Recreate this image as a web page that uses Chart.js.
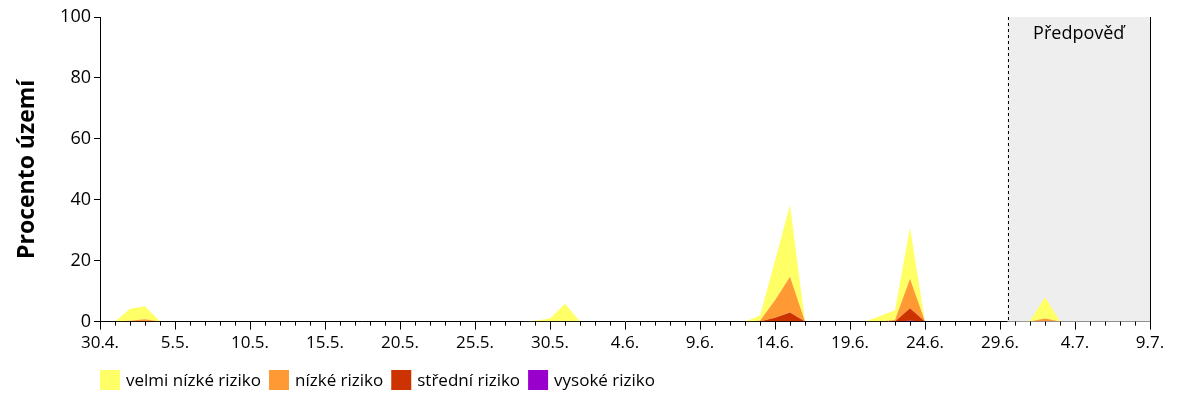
<!DOCTYPE html>
<html>
<head>
<meta charset="utf-8">
<script src="https://cdn.jsdelivr.net/npm/chart.js@4"></script>
<style>
  body { margin: 0; background: #fff; }
  #wrap { width: 1200px; height: 400px; }
</style>
</head>
<body>
<div id="wrap"><canvas id="riziko"></canvas></div>
<script>
// popisky osy x (kazdych 5 dni, index 0 = 30.4.)
const tickLabels = ['30.4.', '5.5.', '10.5.', '15.5.', '20.5.', '25.5.', '30.5.', '4.6.', '9.6.', '14.6.', '19.6.', '24.6.', '29.6.', '4.7.', '9.7.'];
const dayIndex = [
  0, 1, 2, 3, 4, 5, 6, 7, 8, 9, 10, 11, 12, 13, 14, 15, 16, 17, 18, 19,
  20, 21, 22, 23, 24, 25, 26, 27, 28, 29, 30, 31, 32, 33, 34, 35, 36, 37, 38, 39,
  40, 41, 42, 43, 44, 45, 46, 47, 48, 49, 50, 51, 52, 53, 54, 55, 56, 57, 58, 59,
  60, 61, 62, 63, 64, 65, 66, 67, 68, 69, 70
];
const forecastStart = 60.5;

// tloustka pasu jednotlivych kategorii (skladane)
const velmiNizke = [
  0, 0, 3.9, 4.2, 0, 0, 0, 0, 0, 0,
  0, 0, 0, 0, 0, 0, 0, 0, 0, 0,
  0, 0, 0, 0, 0, 0, 0, 0, 0, 0.3,
  1, 5.9, 0, 0, 0, 0, 0, 0, 0, 0,
  0, 0, 0, 0, 1.7, 13, 23.6, 0, 0, 0,
  0, 0, 1.8, 3.2, 16.8, 0, 0, 0, 0, 0,
  0, 0, 0.3, 7, 0, 0, 0, 0, 0, 0,
  0
];
const nizke = [
  0, 0, 0.3, 0.8, 0, 0, 0, 0, 0, 0,
  0, 0, 0, 0, 0, 0, 0, 0, 0, 0,
  0, 0, 0, 0, 0, 0, 0, 0, 0, 0,
  0, 0, 0, 0, 0, 0, 0, 0, 0, 0,
  0, 0, 0, 0, 0.3, 5.7, 11.7, 0, 0, 0,
  0, 0, 0, 0.5, 9.7, 0, 0, 0, 0, 0,
  0, 0, 0, 1, 0, 0, 0, 0, 0, 0,
  0
];
const stredni = [
  0, 0, 0, 0, 0, 0, 0, 0, 0, 0,
  0, 0, 0, 0, 0, 0, 0, 0, 0, 0,
  0, 0, 0, 0, 0, 0, 0, 0, 0, 0,
  0, 0, 0, 0, 0, 0, 0, 0, 0, 0,
  0, 0, 0, 0, 0, 1.3, 3, 0, 0, 0,
  0, 0, 0, 0, 4.1, 0, 0, 0, 0, 0,
  0, 0, 0, 0, 0, 0, 0, 0, 0, 0,
  0
];
const vysoke = [
  0, 0, 0, 0, 0, 0, 0, 0, 0, 0,
  0, 0, 0, 0, 0, 0, 0, 0, 0, 0,
  0, 0, 0, 0, 0, 0, 0, 0, 0, 0,
  0, 0, 0, 0, 0, 0, 0, 0, 0, 0,
  0, 0, 0, 0, 0, 0, 0, 0, 0, 0,
  0, 0, 0, 0, 0.3, 0, 0, 0, 0, 0,
  0, 0, 0, 0, 0, 0, 0, 0, 0, 0,
  0
];

const FONT = '"Open Sans", sans-serif';

function pts(arr) {
  return arr.map(function (v, i) { return { x: dayIndex[i], y: v }; });
}

// sede pozadi predpovedi, drobne ticky a legenda
const predpovedPlugin = {
  id: 'predpoved',
  beforeDatasetsDraw(chart) {
    const { ctx, chartArea, scales } = chart;
    const x0 = scales.x.getPixelForValue(forecastStart);
    ctx.save();
    ctx.fillStyle = '#eeeeee';
    ctx.fillRect(x0, chartArea.top, chartArea.right - x0, chartArea.bottom - chartArea.top);
    ctx.restore();
  },
  afterDatasetsDraw(chart) {
    const { ctx, chartArea, scales } = chart;
    const x0 = scales.x.getPixelForValue(forecastStart);
    ctx.save();
    ctx.strokeStyle = '#000';
    ctx.lineWidth = 1;
    ctx.setLineDash([3, 3]);
    ctx.beginPath();
    ctx.moveTo(Math.round(x0) + 0.5, chartArea.top);
    ctx.lineTo(Math.round(x0) + 0.5, chartArea.bottom);
    ctx.stroke();
    ctx.setLineDash([]);
    ctx.beginPath();
    ctx.moveTo(Math.round(chartArea.right) + 0.5, chartArea.top);
    ctx.lineTo(Math.round(chartArea.right) + 0.5, chartArea.bottom);
    ctx.stroke();
    for (let d = 0; d <= 70; d++) {
      if (d % 5 === 0) continue;
      const x = Math.round(scales.x.getPixelForValue(d)) + 0.5;
      ctx.beginPath();
      ctx.moveTo(x, chartArea.bottom);
      ctx.lineTo(x, chartArea.bottom + 4);
      ctx.stroke();
    }
    ctx.fillStyle = '#000';
    ctx.font = '18px ' + FONT;
    ctx.textAlign = 'center';
    ctx.textBaseline = 'top';
    ctx.fillText('Předpověď', (x0 + chartArea.right) / 2, chartArea.top + 8);

    // legenda
    ctx.textAlign = 'left';
    ctx.textBaseline = 'middle';
    ctx.font = '17px ' + FONT;
    let lx = chartArea.left;
    const ly = 380;
    chart.data.datasets.slice().reverse().forEach(function (ds) {
      ctx.fillStyle = ds.backgroundColor;
      ctx.fillRect(lx, ly - 10, 20, 20);
      ctx.fillStyle = '#000';
      ctx.fillText(ds.label, lx + 26, ly + 1);
      lx += 26 + ctx.measureText(ds.label).width + 8;
    });
    ctx.restore();
  }
};

const common = { pointRadius: 0, borderWidth: 0, tension: 0 };

new Chart(document.getElementById('riziko'), {
  type: 'line',
  data: {
    datasets: [
      Object.assign({ label: 'vysoké riziko', data: pts(vysoke), backgroundColor: '#9900cc', fill: 'origin' }, common),
      Object.assign({ label: 'střední riziko', data: pts(stredni), backgroundColor: '#cc3300', fill: '-1' }, common),
      Object.assign({ label: 'nízké riziko', data: pts(nizke), backgroundColor: '#ff9933', fill: '-1' }, common),
      Object.assign({ label: 'velmi nízké riziko', data: pts(velmiNizke), backgroundColor: '#ffff66', fill: '-1' }, common)
    ]
  },
  plugins: [predpovedPlugin],
  options: {
    responsive: true,
    maintainAspectRatio: false,
    animation: false,
    layout: { padding: { top: 17, right: 50, left: 10, bottom: 44 } },
    scales: {
      x: {
        type: 'linear',
        min: 0,
        max: 70,
        border: { color: '#000' },
        grid: { drawOnChartArea: false, color: '#000', tickLength: 8 },
        ticks: {
          stepSize: 5,
          autoSkip: false,
          maxRotation: 0,
          color: '#000',
          font: { family: FONT, size: 17 },
          callback: function (v) { return tickLabels[v / 5]; }
        }
      },
      y: {
        stacked: true,
        min: 0,
        max: 100,
        afterFit: function (s) { s.width = 90; },
        border: { color: '#000' },
        grid: { drawOnChartArea: false, color: '#000', tickLength: 6 },
        ticks: {
          stepSize: 20,
          color: '#000',
          font: { family: FONT, size: 18 }
        },
        title: {
          display: true,
          text: 'Procento území',
          color: '#000',
          font: { family: FONT, size: 23, weight: 'bold' }
        }
      }
    },
    plugins: {
      tooltip: { enabled: false },
      legend: { display: false }
    }
  }
});
</script>
</body>
</html>
